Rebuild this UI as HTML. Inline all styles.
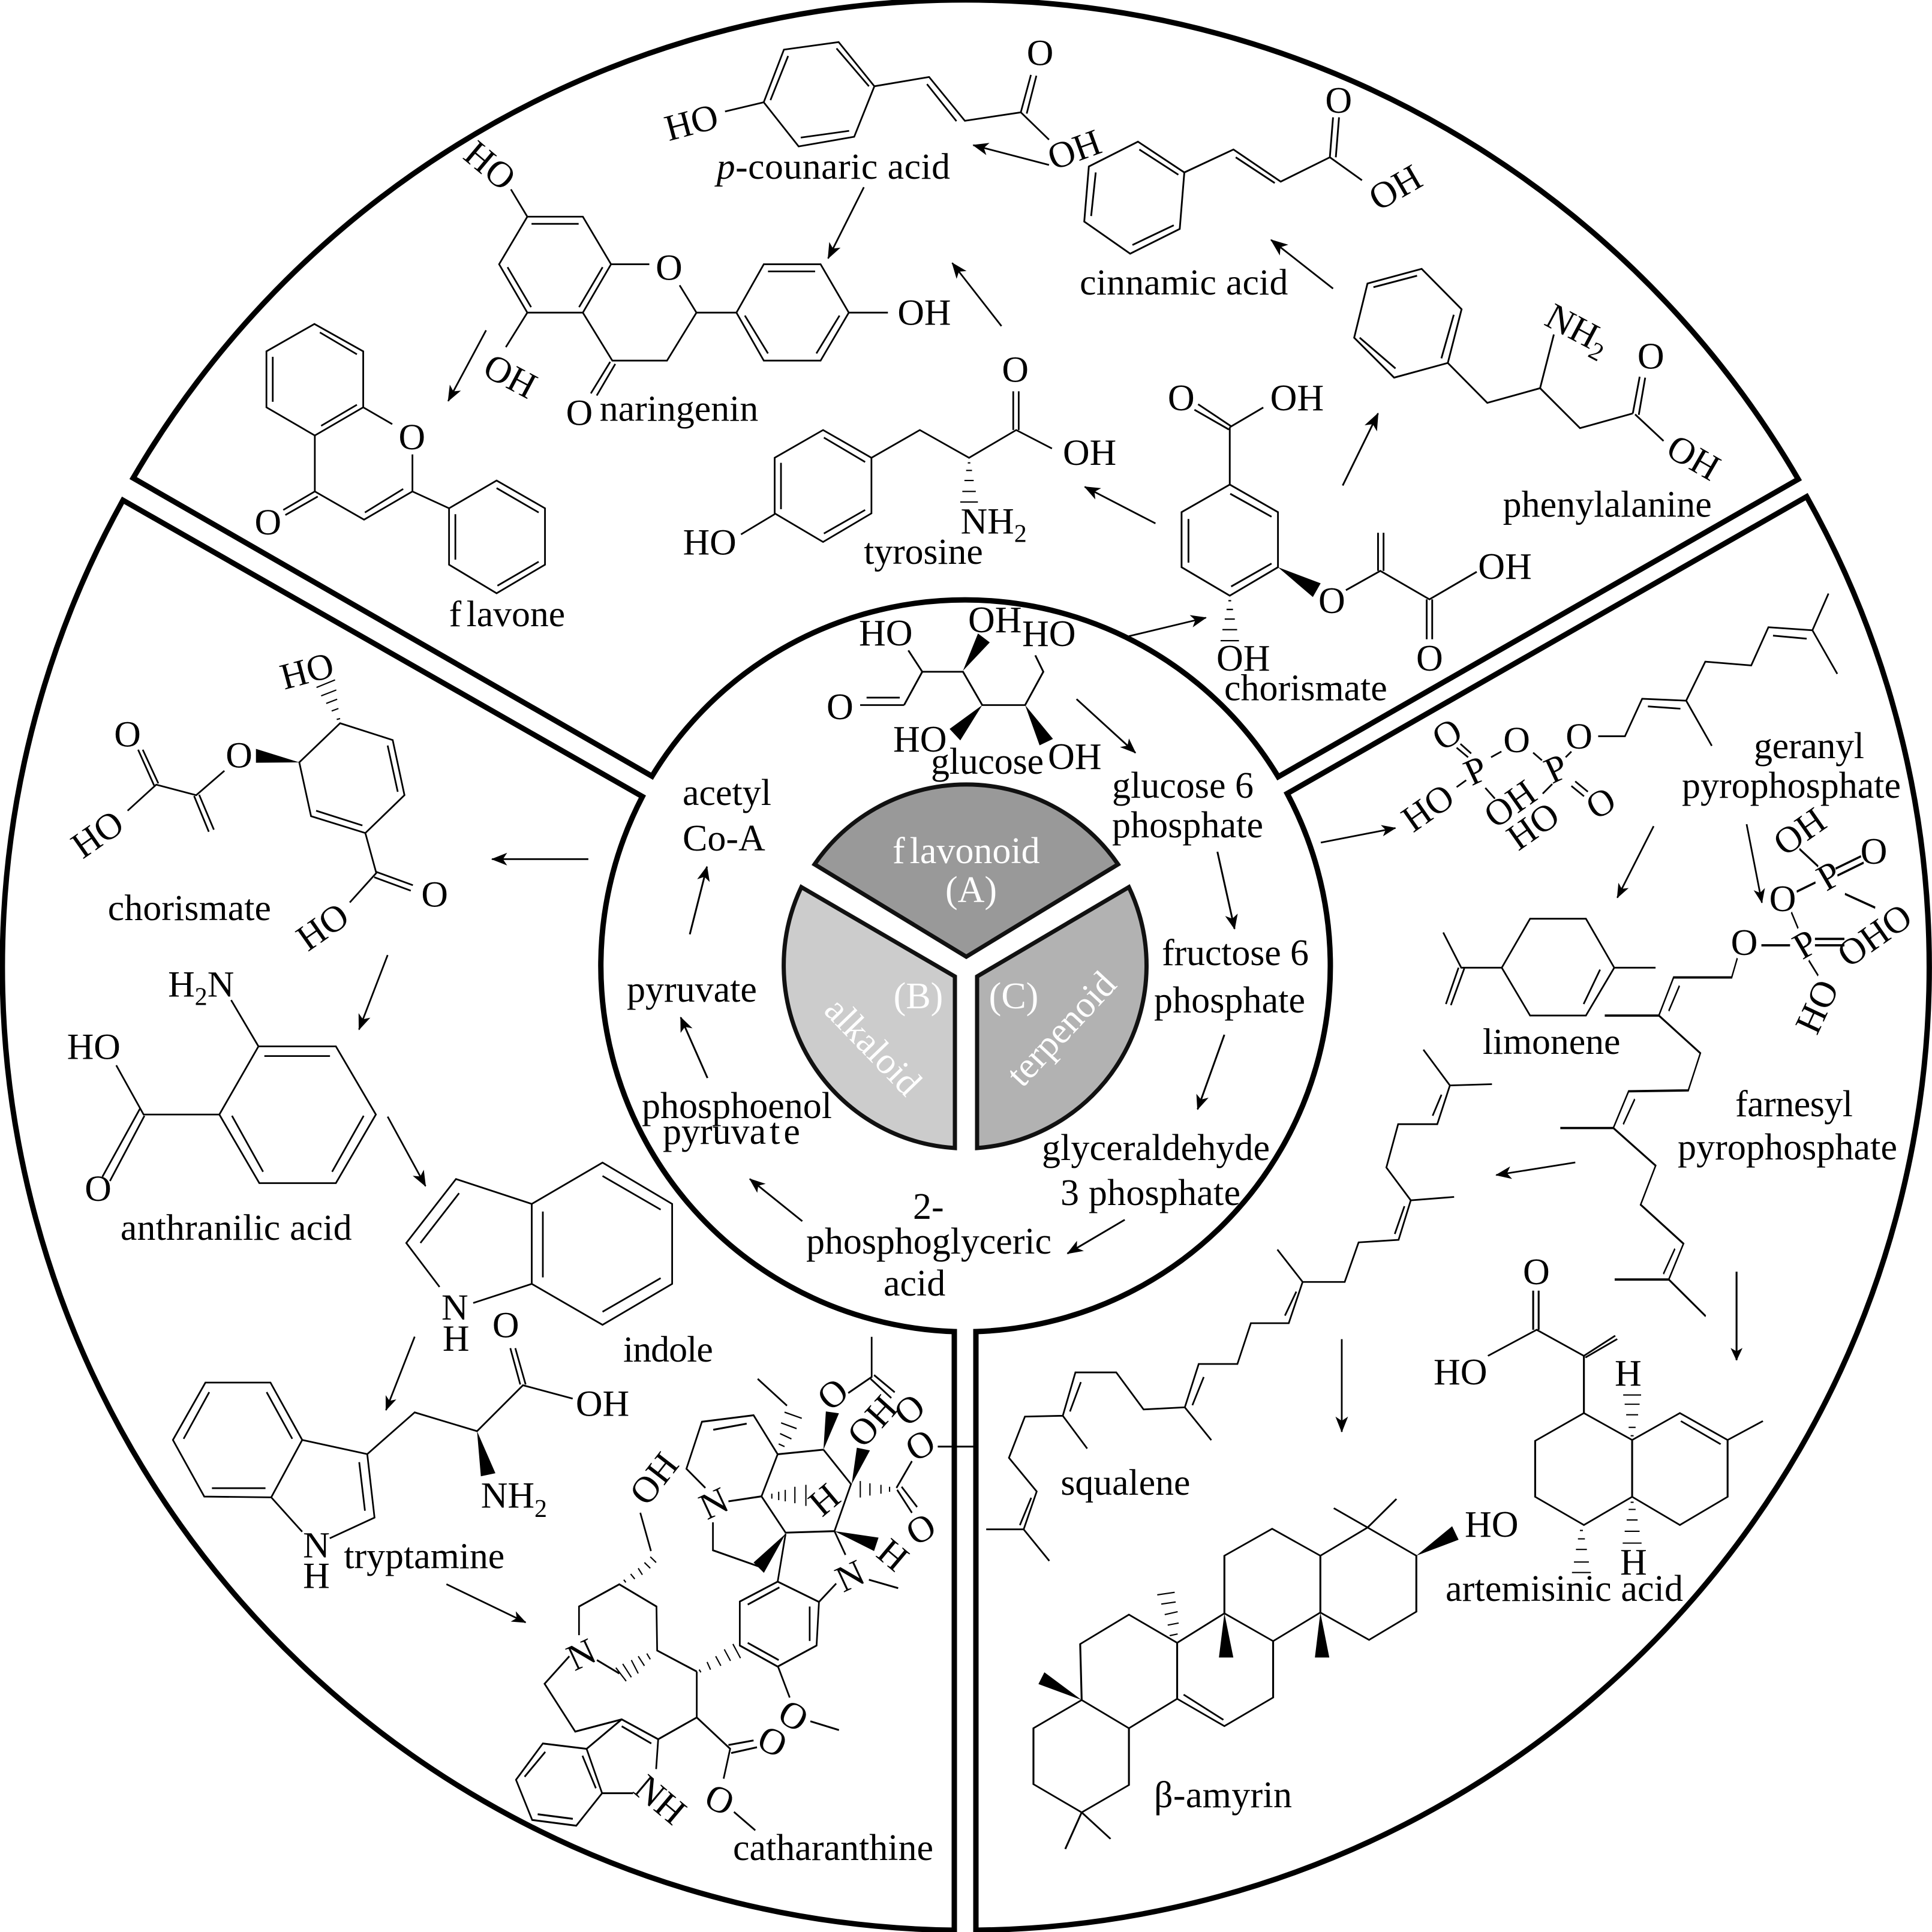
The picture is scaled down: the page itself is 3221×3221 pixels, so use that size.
<!DOCTYPE html>
<html><head><meta charset="utf-8"><style>
html,body{margin:0;padding:0;background:#fff}
svg{display:block}
svg text{fill:#000;stroke:none;font-family:"Liberation Serif",serif}
.c{text-anchor:middle}
.w{fill:#fff}
.f{fill:#000;stroke:none}
</style></head><body>
<svg xmlns="http://www.w3.org/2000/svg" width="3221" height="3221" viewBox="0 0 3221 3221" fill="none" stroke="#000">
<defs>
<marker id="a" markerUnits="userSpaceOnUse" markerWidth="40" markerHeight="32" refX="36" refY="16" orient="auto" viewBox="0 0 40 32"><path d="M38,16 L0,1 L10,16 L0,31z" fill="#000" stroke="none"/></marker>
<marker id="b" markerUnits="userSpaceOnUse" markerWidth="32" markerHeight="25.6" refX="36" refY="16" orient="auto" viewBox="0 0 40 32"><path d="M38,16 L0,1 L10,16 L0,31z" fill="#000" stroke="none"/></marker>
</defs>

<!-- frames -->
<g stroke-width="9" stroke-linejoin="miter">
<path d="M222,797 L1087,1294 A610,610 0 0 1 2131,1295 L2998,799 A1606,1606 0 0 0 222,797 Z"/>
<path d="M205,834 L1071,1328 A610,610 0 0 0 1591,2220 L1591,3218 A1606,1606 0 0 1 205,834 Z"/>
<path d="M1627,2220 L1627,3218 A1606,1606 0 0 0 3012,828 L2146,1323 A610,610 0 0 1 1627,2220 Z"/>
</g>
<g stroke="#111" stroke-width="7">
<path fill="#999" d="M1358,1441 L1611,1595 L1864,1441 A307,307 0 0 0 1358,1441 Z"/>
<path fill="#ccc" d="M1336,1479 L1592,1628 L1592,1914 A305,305 0 0 1 1336,1479 Z"/>
<path fill="#b2b2b2" d="M1882,1479 L1629,1628 L1629,1914 A305,305 0 0 0 1882,1479 Z"/>
</g>
<g font-size="62">
<text class="w" style="fill:#fff" x="1488" y="1439">f<tspan dx="8">lavonoid</tspan></text>
<text class="c" style="fill:#fff" x="1619" y="1504">(A)</text>
<text class="c" style="fill:#fff" x="1531" y="1681">(B)</text>
<text class="c" style="fill:#fff" x="1690" y="1681">(C)</text>
<text class="c" style="fill:#fff" transform="translate(1454 1746) rotate(46)" y="18">alkaloid</text>
<text class="c" style="fill:#fff" transform="translate(1771 1717) rotate(-47)" y="18">terpenoid</text>

<text x="1138" y="1342">acetyl</text>
<text x="1138" y="1418">Co-A</text>
<text x="1045" y="1670">pyruvate</text>
<text x="1070" y="1864" textLength="317">phosphoenol</text>
<text x="1105" y="1907">pyruva<tspan dx="6">t</tspan><tspan dx="6">e</tspan></text>
<text x="1522" y="2032">2-</text>
<text x="1344" y="2090" textLength="409">phosphoglyceric</text>
<text x="1473" y="2160">acid</text>
<text x="1737" y="1934" textLength="380">glyceraldehyde</text>
<text x="1768" y="2009" textLength="300">3 phosphate</text>
<text x="1937" y="1609" textLength="245">fructose 6</text>
<text x="1924" y="1688" textLength="252">phosphate</text>
<text x="1854" y="1330" textLength="236">glucose 6</text>
<text x="1854" y="1396" textLength="252">phosphate</text>
<text x="1552" y="1290" textLength="188">glucose</text>
<text x="1432" y="1076">HO</text>
<text x="1614" y="1054">OH</text>
<text x="1704" y="1077">HO</text>
<text x="1378" y="1199">O</text>
<text x="1489" y="1253">HO</text>
<text x="1747" y="1282">OH</text>
</g>
<!-- zoom 1 group: glucose + ring arrows -->
<g transform="translate(900 950) scale(.893 .829)" stroke-width="3.4">
<path d="M598,272H680M610,257H672M680,272L714,205H790L826,272H906L940,205L925,172M714,205L688,162"/>
<path class="f" d="M790,203L818,128L840,146ZM826,272L765,320L785,343ZM906,272L958,340L933,353Z"/>
<path marker-end="url(#b)" d="M1002,260L1112,368"/>
<path marker-end="url(#b)" d="M1265,567L1297,722"/>
<path marker-end="url(#b)" d="M1278,935L1228,1085"/>
<path marker-end="url(#b)" d="M1092,1307L985,1375"/>
<path marker-end="url(#b)" d="M490,1310L392,1225"/>
<path marker-end="url(#b)" d="M313,1022L263,900"/>
<path marker-end="url(#b)" d="M280,733L312,597"/>
</g>

<!-- zoom 4: flavone, naringenin -->
<g transform="translate(400 0) scale(.7015)" stroke-width="4" font-size="88">
<path d="M177,770L293,835V968L178,1035L63,968V835ZM190,790L278,842M78,848V955M193,1012L278,962M293,968L362,1008M178,1035V1168L295,1235L410,1168V1080M297,1218L388,1162M178,1168L103,1212M185,1180L108,1224M410,1168L497,1208M497,1208L610,1142L725,1208V1342L610,1410L497,1342ZM610,1160L710,1218M512,1222V1330M612,1392L710,1335"/>
<text x="377" y="1068">O</text><text x="35" y="1270">O</text>
<text x="497" y="1488">f<tspan dx="12">lavone</tspan></text>
<path d="M683,515H815L882,628L815,743H683L616,628ZM693,532H805M862,635L806,730M636,635L692,730M683,515L644,450M882,628H973M815,743L885,857H1015L1085,743L1045,678M1085,743H1180M1180,743L1245,628H1380L1447,743L1380,857H1245ZM1255,645H1367M1425,750L1370,840M1200,750L1255,840M1447,743H1540M880,860L834,935M892,865L848,940M683,743L632,825"/>
<text class="c" transform="translate(595 393) rotate(40)" y="30">HO</text>
<text class="c" transform="translate(643 893) rotate(28)" y="30">OH</text>
<text x="988" y="665">O</text><text x="775" y="1010">O</text>
<text x="855" y="1000" textLength="377">naringenin</text>
<path marker-end="url(#a)" d="M585,785L495,953"/>
</g>

<!-- zoom 5: coumaric, tyrosine -->
<g transform="translate(1100 0) scale(.7015)" stroke-width="4" font-size="88">
<path d="M295,118L425,100L510,205L462,325L330,348L247,243ZM305,133L263,238M420,115L497,205M335,327L450,311M247,243L155,265M510,205L640,183L725,287L858,267M635,200L705,288M858,267L882,178M872,270L895,180M858,267L925,332"/>
<text class="c" transform="translate(75 290) rotate(-15)" y="30">HO</text>
<text class="c" transform="translate(985 355) rotate(-20)" y="30">OH</text>
<text x="872" y="155">O</text>
<text x="135" y="425" textLength="555"><tspan font-style="italic">p</tspan>-counaric acid</text>
<path marker-end="url(#a)" d="M925,392L745,345"/>
<path marker-end="url(#a)" d="M485,445L400,614"/>
<path marker-end="url(#a)" d="M812,775L695,625"/>
<text x="565" y="772">OH</text>
<path d="M388,1022L503,1088V1220L388,1288L273,1220V1088ZM390,1040L488,1098M288,1100V1210M390,1268L488,1212M273,1222L193,1270M503,1088L618,1022L735,1088L847,1022L932,1066M840,1022V930M853,1022V930"/>
<path stroke-width="3" d="M732,1100H738M728,1118H742M724,1142H746M719,1168H751M714,1193H756"/>
<text x="55" y="1318">HO</text><text x="813" y="907">O</text><text x="958" y="1105">OH</text>
<text x="715" y="1268">NH<tspan dy="20" font-size="60">2</tspan></text>
<text x="485" y="1340" textLength="283">tyrosine</text>
<path marker-end="url(#a)" d="M1178,1244L1010,1157"/>
<text x="998" y="700" textLength="495">cinnamic acid</text>
<path marker-end="url(#a)" d="M1115,1512L1298,1468"/>
</g>

<!-- zoom 6: cinnamic, phe, chorismate -->
<g transform="translate(1800 100) scale(.7653)" stroke-width="3.8" font-size="81">
<path d="M127,178L228,245L218,368L110,422L10,352L20,232ZM130,195L215,250M35,245L25,340M115,403L205,360M228,245L335,195L438,265L545,212M340,212L425,268M545,212L552,125M558,212L565,125M545,212L615,262"/>
<text x="535" y="115">O</text>
<text class="c" transform="translate(687 277) rotate(-30)" y="28">OH</text>
<path marker-end="url(#a)" d="M552,498L417,392"/>
<path d="M745,455L832,543L802,660L685,692L598,605L627,487ZM640,495L735,470M815,555L788,650M610,605L688,672M802,660L888,747L1003,715L1090,802L1205,770M1003,715L1033,598M1205,770L1220,690M1218,773L1232,692M1210,772L1272,830"/>
<text class="c" transform="translate(1086 585) rotate(28)" y="28">NH<tspan dy="16" font-size="55">2</tspan></text>
<text x="1215" y="672">O</text>
<text class="c" transform="translate(1338 865) rotate(30)" y="28">OH</text>
<text x="922" y="995" textLength="455">phenylalanine</text>
<path marker-end="url(#a)" d="M573,927L650,770"/>
<path d="M327,925L432,985V1105L327,1167L222,1105V985ZM328,945L418,995M237,1000V1095M330,1147L418,1097M327,925V800M330,798L258,750M325,805L250,762M327,800L400,757M580,1155L655,1113L762,1175L865,1115M650,1113V1030M662,1113V1030M756,1175V1262M768,1175V1262"/>
<path class="f" d="M432,1105L525,1140L508,1170Z"/>
<path stroke-width="3" d="M324,1178H330M320,1197H334M316,1218H338M311,1241H343M307,1265H347"/>
<text x="192" y="763">O</text><text x="415" y="763">OH</text><text x="520" y="1205">O</text><text x="868" y="1130">OH</text><text x="733" y="1330">O</text><text x="298" y="1330">OH</text>
<text x="315" y="1395" textLength="355">chorismate</text>
</g>

<!-- zoom 7: left chorismate, anthranilic -->
<g transform="translate(50 1050) scale(.7015)" stroke-width="4" font-size="88">
<path d="M737,222L862,262L890,393L797,483L668,443L640,315ZM850,275L874,385M680,430L790,465M462,335L395,393L300,368L232,430M295,370L257,285M305,365L268,285M390,395L425,480M402,392L437,475M797,483L823,578L760,648M822,575L910,607M818,588L905,620"/>
<path stroke-width="3" d="M729,213L737,211M717,193L733,187M704,175L730,165M692,157L728,143M681,137L725,119"/>
<path class="f" d="M640,315L537,283V316Z"/>
<text class="c" transform="translate(658 97) rotate(-15)" y="30">HO</text>
<text x="465" y="327">O</text><text x="200" y="277">O</text><text x="930" y="658">O</text>
<text class="c" transform="translate(160 485) rotate(-35)" y="30">HO</text>
<text class="c" transform="translate(695 705) rotate(-35)" y="30">HO</text>
<text x="185" y="690" textLength="388">chorismate</text>
<path marker-end="url(#a)" d="M1327,545H1098"/>
<path marker-end="url(#a)" d="M850,773L782,950"/>
<path d="M543,990H727L822,1152L727,1315H545L450,1152ZM557,1013H713M793,1155L718,1288M480,1155L554,1288M478,880L543,990M450,1152H270L205,1035M262,1137L172,1300M272,1155L190,1310"/>
<text x="328" y="872">H<tspan dy="20" font-size="60">2</tspan><tspan dy="-20">N</tspan></text>
<text x="88" y="1020">HO</text><text x="130" y="1357">O</text>
<text x="215" y="1450" textLength="550">anthranilic acid</text>
<path marker-end="url(#a)" d="M850,1157L940,1322"/>
</g>

<!-- zoom 8: indole, tryptophan -->
<g transform="translate(250 1900) scale(.6378)" stroke-width="4.4" font-size="97">
<path d="M845,427L998,377V168L800,103L670,270L757,385M808,140L707,270M998,168L1183,60L1365,168V377L1183,484L998,377M1183,95L1335,183M1027,188V360M1183,450L1335,362"/>
<text x="762" y="470">N</text><text x="765" y="552">H</text><text x="895" y="517">O</text>
<text x="1237" y="580" textLength="235">indole</text>
<path marker-end="url(#a)" d="M692,515L617,707"/>
<path d="M145,635H315L398,785L317,935L142,933L60,785ZM155,660L88,782M305,660L372,782M162,911H302M398,785L568,822L587,988L470,1042M317,935L398,1025M547,843L562,970M568,822L692,713L855,762L975,642L1105,677M968,640L942,545M982,640L955,545"/>
<path class="f" d="M855,762L865,880L903,872Z"/>
<text x="400" y="1092">N</text><text x="400" y="1172">H</text><text x="1113" y="722">OH</text>
<text x="865" y="962">NH<tspan dy="24" font-size="66">2</tspan></text>
<text x="507" y="1120" textLength="420">tryptamine</text>
<path marker-end="url(#a)" d="M775,1162L982,1262"/>
</g>

<!-- zoom 2: catharanthine -->
<g transform="translate(800 2200) scale(.574 .6378)" stroke-width="4.8">
<path d="M1138,45V150L1070,192M1135,155L1195,205M1145,145L1205,190M998,340L865,352L795,250L645,267L600,390L655,440M678,288L775,272M865,352L818,462L722,475M818,462L888,557L1030,553L1078,430L998,340M807,155L892,225M1210,440L1255,370M1212,445L1255,505M1225,437L1270,490M1330,332H1440M1030,553L1062,615M1130,680L1215,702M1035,690L985,738M865,685L985,738L978,852L865,907L755,852V737ZM778,745L870,700M958,750V840M778,845L868,890M865,685L888,560M825,650L677,603V530M866,907L900,988M960,1050L1043,1073M630,920L515,865L513,750L405,692L288,750V825M497,605L466,505M340,890L405,925M260,880L188,952L277,1077L412,1045L518,1097L630,1040V920M412,1063L498,1108M412,1045L310,1122L355,1238H445M518,1097L512,1175M310,1122L183,1108L105,1203L152,1308L280,1323L355,1238M190,1130L130,1195M168,1293L270,1305M298,1140L337,1225M630,1040L727,1122L708,1200M722,1112L795,1100M730,1133L805,1118M738,1287L800,1335"/>
<path stroke-width="3.6" d="M848,455V468M868,450V472M887,445V475M915,437V480M947,432V487M1105,422V465M1133,428V460M1165,432V455M1190,437V450M868,325L885,332M872,298L905,312M875,270L920,285M885,242L935,258M485,873L495,888M460,880L478,905M440,890L460,925M415,900L440,935M395,910L425,945M637,915L642,922M660,895L670,915M685,880L700,905M710,862L728,892M735,848L757,885M418,680L424,687M438,665L450,678M460,650L472,667M478,635L495,650M495,620L512,635"/>
<path class="f" d="M998,340L1005,240L1043,245ZM1080,430L1095,335L1133,342ZM1030,553L1158,570L1145,605ZM888,560L795,635L825,662Z"/>
</g>
<g font-size="62">
<text class="c" transform="translate(1388 2324) rotate(-40)" y="21">O</text>
<text class="c" transform="translate(1516 2350) rotate(-40)" y="21">O</text>
<text class="c" transform="translate(1454 2369) rotate(-48)" y="21">OH</text>
<text class="c" transform="translate(1374 2500) rotate(-40)" y="21">H</text>
<text class="c" transform="translate(1534 2409) rotate(-30)" y="21">O</text>
<text class="c" transform="translate(1535 2549) rotate(-30)" y="21">O</text>
<text class="c" transform="translate(1489 2592) rotate(40)" y="21">H</text>
<text class="c" transform="translate(1417 2627) rotate(-25)" y="21">N</text>
<text class="c" transform="translate(1190 2506) rotate(-25)" y="21">N</text>
<text class="c" transform="translate(1323 2860) rotate(30)" y="21">O</text>
<text class="c" transform="translate(1090 2465) rotate(-52)" y="21">OH</text>
<text class="c" transform="translate(969 2758) rotate(-25)" y="21">N</text>
<text class="c" transform="translate(1101 3000) rotate(40)" y="21">NH</text>
<text class="c" transform="translate(1288 2903) rotate(25)" y="21">O</text>
<text class="c" transform="translate(1200 3000) rotate(25)" y="21">O</text>
<text x="1222" y="3101" textLength="334">catharanthine</text>
</g>

<!-- zoom 9: squalene -->
<g transform="translate(1600 1750) scale(.7015)" stroke-width="4" font-size="88">
<path d="M1102,0L1165,85L1265,82M1165,85L1135,177H1042L1014,280L1072,358L1175,350M1072,358L1043,452L948,458L915,552H815L755,475M815,552L782,650H692L660,747H568L535,850L598,928M535,850L437,855L372,767H275L245,870L303,948M245,870L155,872L117,970L183,1050L152,1140H63M152,1140L213,1215M1145,107L1124,157M1057,372L1034,438M800,575L773,632M580,778L553,845M288,790L262,860M170,1065L143,1130"/>
<path marker-end="url(#a)" d="M1463,268L1275,298"/>
<path marker-end="url(#a)" d="M908,688V908"/>
<text x="240" y="1058" textLength="308">squalene</text>
</g>

<!-- zoom 10: amyrin, artemisinic -->
<g transform="translate(1650 2050) scale(.829 .7015)" stroke-width="3.8">
<path d="M88,1185L185,1118L280,1185V1320L185,1385L88,1318ZM185,1118L182,985L280,915L377,982V1115L280,1185M377,982L472,912L570,978V1112L472,1180L377,1115M390,1105L470,1165M472,912V775L568,711L665,775V910L570,978M665,775L760,708L858,775V908L763,975L665,910M472,912L570,978M760,708L692,662M760,708L818,640M185,1385L152,1472M185,1385L243,1448"/>
<path class="f" d="M858,775L930,705L943,737ZM472,912L461,1017H490ZM665,910L654,1017H683ZM185,1118L110,1052L98,1080Z"/>
<path stroke-width="3" d="M362,965L378,961M358,940L380,935M352,915L378,908M345,890L374,885M337,868L372,862"/>
<path d="M1195,436L1292,500V635L1195,702L1097,635V502ZM1292,500L1388,436L1484,500V635L1388,702L1292,635M1390,455L1470,510M1484,500L1555,455M1195,436V300L1100,238L1002,300M1195,300L1258,252M1198,304L1262,260M1093,238V145M1104,238V145"/>
<path stroke-width="3" d="M1289,490H1295M1285,470H1299M1280,440H1304M1277,415H1307M1274,393H1310M1289,648H1295M1285,665H1299M1281,690H1303M1277,717H1307M1273,745H1311M1187,715H1193M1183,735H1197M1179,760H1201M1175,790H1205M1171,815H1209"/>
<path marker-end="url(#b)" d="M1502,100V310"/>
</g>
<g font-size="62">
<text x="2442" y="2562">HO</text>
<text x="1924" y="3013" textLength="230">β-amyrin</text>
<text x="2410" y="2669" textLength="396">artemisinic acid</text>
<text x="2539" y="2141">O</text>
<text x="2390" y="2308">HO</text>
<text x="2692" y="2310">H</text>
<text x="2701" y="2625">H</text>
</g>

<!-- zoom 3: GPP, limonene -->
<g transform="translate(2100 950) scale(.6378)" stroke-width="4.4" font-size="97">
<path d="M885,435H955L1000,337L1115,342L1165,240L1285,250L1330,150L1445,158L1487,62M1445,158L1510,272M1115,342L1182,460M1015,357L1100,363M1342,172L1430,180M800,490L815,475M715,478L738,498M605,490L632,475M515,568L540,550M590,570L615,598M740,585L765,560M515,465L545,490M525,455L553,480M815,565L848,592M825,553L858,580"/>
<text class="c" transform="translate(835 435)" y="32">O</text>
<text class="c" transform="translate(775 520) rotate(-25)" y="32">P</text>
<text class="c" transform="translate(672 445)" y="32">O</text>
<text class="c" transform="translate(565 525) rotate(-25)" y="32">P</text>
<text class="c" transform="translate(490 430) rotate(-30)" y="32">O</text>
<text class="c" transform="translate(440 622) rotate(-35)" y="32">HO</text>
<text class="c" transform="translate(655 612) rotate(-35)" y="32">OH</text>
<text class="c" transform="translate(715 670) rotate(-35)" y="32">HO</text>
<text class="c" transform="translate(892 610) rotate(-30)" y="32">O</text>
<path marker-end="url(#a)" d="M160,713L355,675"/>
<path marker-end="url(#a)" d="M1030,670L935,857"/>
<path marker-end="url(#a)" d="M1273,665L1313,870"/>
<path d="M707,912H853L927,1040L853,1165H707L633,1040ZM890,1045L847,1135M927,1040H1035M633,1040H527L480,948M520,1040L487,1135M535,1042L500,1138"/>
<text x="583" y="1265" textLength="360">limonene</text>
</g>

<!-- zoom 11: FPP -->
<g transform="translate(2500 1100) scale(.4464 .7653)" stroke-width="5">
<path d="M888,650L867,692H650L595,775H393M595,775L750,857L705,938L482,940L425,1020H227M425,1020L583,1102L527,1187L687,1272L632,1350H430M632,1350L770,1430M672,710L632,765M505,957L462,1012M655,1283L612,1338M978,622H1085M1178,608H1288M1178,622H1288M1090,550L1115,585M1110,505L1180,485M1120,412L1190,450M1255,455L1350,428M1262,470L1360,442M1290,510L1403,540M1155,655L1190,688"/>
</g>
<g font-size="62">
<text class="c" x="2908" y="1592">O</text>
<text class="c" transform="translate(3009 1574) rotate(-30)" y="21">P</text>
<text class="c" x="2972" y="1519">O</text>
<text class="c" transform="translate(3049 1460) rotate(-30)" y="21">P</text>
<text class="c" x="3124" y="1440">O</text>
<text class="c" transform="translate(3000 1386) rotate(-35)" y="21">OH</text>
<text class="c" transform="translate(3125 1559) rotate(-35)" y="21">OHO</text>
<text class="c" transform="translate(3029 1678) rotate(-65)" y="21">HO</text>
<text x="2924" y="1264" textLength="184">geranyl</text>
<text x="2804" y="1330" textLength="365">pyrophosphate</text>
<text x="2893" y="1861" textLength="196">farnesyl</text>
<text x="2797" y="1933" textLength="366">pyrophosphate</text>
</g>
</svg>
</body></html>
